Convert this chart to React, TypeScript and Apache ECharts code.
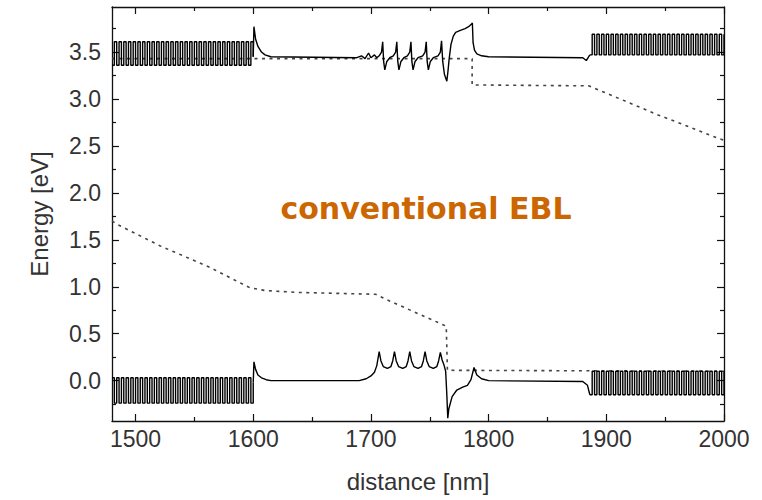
import React, { useEffect, useRef } from "react";
import * as echarts from "echarts";

// ---- axis ticks ----
const X_MIN = 1480;
const X_MAX = 2000;
const Y_MIN = -0.43;
const Y_MAX = 3.98;
const xMajor = [1500, 1600, 1700, 1800, 1900, 2000];
const xMinor = [1550, 1650, 1750, 1850, 1950];
const yMajor = [0, 0.5, 1, 1.5, 2, 2.5, 3, 3.5];
const yMinor = [-0.25, 0.25, 0.75, 1.25, 1.75, 2.25, 2.75, 3.25, 3.75];

// ---- superlattice sections (sampled every SL_STEP nm) ----
const SL_STEP = 2;
const cbLeftStart = 1480;
const cbLeftVals = [
  3.36, 3.61, 3.36, 3.61, 3.36, 3.61, 3.36, 3.61, 3.36, 3.61,
  3.36, 3.61, 3.36, 3.61, 3.36, 3.61, 3.36, 3.61, 3.36, 3.61,
  3.36, 3.61, 3.36, 3.61, 3.36, 3.61, 3.36, 3.61, 3.36, 3.61,
  3.36, 3.61, 3.36, 3.61, 3.36, 3.61, 3.36, 3.61, 3.36, 3.61,
  3.36, 3.61, 3.36, 3.61, 3.36, 3.61, 3.36, 3.61, 3.36, 3.61,
  3.36, 3.61, 3.36, 3.61, 3.36, 3.61, 3.36, 3.61, 3.36, 3.61,
  3.45,
];
const cbRightStart = 1886;
const cbRightVals = [
  3.47, 3.69, 3.47, 3.69, 3.47, 3.69, 3.47, 3.69, 3.47, 3.69,
  3.47, 3.69, 3.47, 3.69, 3.47, 3.69, 3.47, 3.69, 3.47, 3.69,
  3.47, 3.69, 3.47, 3.69, 3.47, 3.69, 3.47, 3.69, 3.47, 3.69,
  3.47, 3.69, 3.47, 3.69, 3.47, 3.69, 3.47, 3.69, 3.47, 3.69,
  3.47, 3.69, 3.47, 3.69, 3.47, 3.69, 3.47, 3.69, 3.47, 3.69,
  3.47, 3.69, 3.47, 3.69, 3.47, 3.69, 3.47, 3.69,
];
const vbLeftStart = 1480;
const vbLeftVals = [
  0.03, -0.24, 0.03, -0.24, 0.03, -0.24, 0.03, -0.24, 0.03, -0.24,
  0.03, -0.24, 0.03, -0.24, 0.03, -0.24, 0.03, -0.24, 0.03, -0.24,
  0.03, -0.24, 0.03, -0.24, 0.03, -0.24, 0.03, -0.24, 0.03, -0.24,
  0.03, -0.24, 0.03, -0.24, 0.03, -0.24, 0.03, -0.24, 0.03, -0.24,
  0.03, -0.24, 0.03, -0.24, 0.03, -0.24, 0.03, -0.24, 0.03, -0.24,
  0.03, -0.24, 0.03, -0.24, 0.03, -0.24, 0.03, -0.24, 0.03, -0.24,
  -0.02,
];
const vbRightStart = 1886;
const vbRightVals = [
  -0.15, 0.1, -0.15, 0.1, -0.15, 0.1, -0.15, 0.1, -0.15, 0.1,
  -0.15, 0.1, -0.15, 0.1, -0.15, 0.1, -0.15, 0.1, -0.15, 0.1,
  -0.15, 0.1, -0.15, 0.1, -0.15, 0.1, -0.15, 0.1, -0.15, 0.1,
  -0.15, 0.1, -0.15, 0.1, -0.15, 0.1, -0.15, 0.1, -0.15, 0.1,
  -0.15, 0.1, -0.15, 0.1, -0.15, 0.1, -0.15, 0.1, -0.15, 0.1,
  -0.15, 0.1, -0.15, 0.1, -0.15, 0.1, -0.15, 0.1,
];

// ---- active region: conduction band [nm, eV] ----
const cbMid: [number, number][] = [
  [1600, 3.45], [1600.6, 3.77], [1602, 3.64], [1604, 3.56], [1607, 3.5], [1610, 3.47], [1615, 3.45],
  [1688, 3.44], [1692, 3.46], [1695, 3.43], [1698, 3.49], [1700, 3.44], [1703, 3.47], [1705, 3.44],
  [1707, 3.46], [1709, 3.5], [1710, 3.61], [1710.8, 3.4], [1711.8, 3.31], [1713.5, 3.4], [1716, 3.44],
  [1719, 3.46], [1721, 3.5], [1722, 3.61], [1722.8, 3.4], [1723.8, 3.31], [1725.5, 3.4], [1728, 3.44],
  [1731, 3.46], [1733, 3.5], [1734, 3.61], [1734.8, 3.4], [1735.8, 3.31], [1737.5, 3.4], [1740, 3.44],
  [1744, 3.46], [1746, 3.5], [1747, 3.61], [1747.8, 3.4], [1748.8, 3.31], [1750.5, 3.4], [1753, 3.44],
  [1757, 3.46], [1759, 3.5], [1760, 3.62], [1761, 3.4], [1762.5, 3.26], [1764.5, 3.19], [1765.5, 3.3],
  [1766.5, 3.43], [1768, 3.58], [1770, 3.67], [1772, 3.71], [1776, 3.73], [1780, 3.75], [1783, 3.77],
  [1785.5, 3.8], [1786.2, 3.81], [1786.8, 3.6], [1788, 3.52], [1790, 3.48], [1794, 3.46], [1800, 3.45],
  [1880, 3.44], [1883, 3.41], [1886, 3.47],
];

// ---- active region: valence band [nm, eV] ----
const vbMid: [number, number][] = [
  [1600, -0.02], [1600.6, 0.2], [1602, 0.12], [1604, 0.06], [1607, 0.03], [1611, 0.01], [1615, 0.0],
  [1690, 0.0], [1696, 0.02], [1700, 0.05], [1703, 0.09], [1705, 0.16],
  [1707, 0.31], [1708.5, 0.21], [1710.5, 0.15], [1714, 0.13], [1717, 0.15], [1718.5, 0.21],
  [1720, 0.31], [1721.5, 0.21], [1723.5, 0.15], [1727, 0.13], [1730, 0.15], [1731.5, 0.21],
  [1733, 0.31], [1734.5, 0.21], [1736.5, 0.15], [1740, 0.13], [1743, 0.15], [1744.5, 0.21],
  [1746, 0.31], [1747.5, 0.21], [1749.5, 0.15], [1753, 0.13], [1756, 0.15], [1757.5, 0.21],
  [1759, 0.3], [1760.5, 0.22], [1762, 0.17], [1763.5, 0.1], [1764.5, -0.15], [1765.3, -0.4],
  [1766.2, -0.3], [1769, -0.17], [1773, -0.1], [1778, -0.07], [1782, -0.05], [1785, 0.01],
  [1787.6, 0.14], [1790, 0.06], [1794, 0.02], [1800, 0.0], [1880, -0.01], [1884, -0.05], [1886, -0.15],
];

// ---- quasi-Fermi levels (dotted) ----
const efn: [number, number][] = [
  [1480, 3.43], [1786, 3.43], [1786, 3.15], [1885, 3.14], [1908, 3.02], [1944, 2.83],
  [1967, 2.72], [1989, 2.61], [2000, 2.56],
];
const efp: [number, number][] = [
  [1480, 1.7], [1484, 1.667], [1521, 1.435], [1563, 1.207], [1597, 0.99], [1610, 0.96],
  [1637, 0.94], [1704, 0.92], [1713, 0.865], [1764, 0.58], [1765, 0.11], [2000, 0.1],
];

const FONT = "Liberation Sans";

function slData(start: number, vals: number[]) {
  return vals.map((v, i) => [start + i * SL_STEP, v]);
}

function xAxisDef(position: "bottom" | "top", values: number[], len: number, labels: boolean, line: boolean) {
  return {
    type: "value",
    min: X_MIN,
    max: X_MAX,
    position,
    axisLine: { show: line, onZero: false, lineStyle: { color: "#111", width: 1.3 } },
    axisTick: { show: true, inside: true, length: len, customValues: values, lineStyle: { color: "#111", width: 1.2 } },
    axisLabel: labels
      ? { show: true, customValues: values, margin: 6, fontSize: 23, fontFamily: FONT, color: "#333", formatter: (v: number) => String(v) }
      : { show: false },
    splitLine: { show: false },
    name: labels ? "distance [nm]" : "",
    nameLocation: "middle",
    nameGap: 48,
    nameTextStyle: { fontSize: 24, fontFamily: FONT, color: "#333" },
  };
}

function yAxisDef(position: "left" | "right", values: number[], len: number, labels: boolean, line: boolean) {
  return {
    type: "value",
    min: Y_MIN,
    max: Y_MAX,
    position,
    axisLine: { show: line, onZero: false, lineStyle: { color: "#111", width: 1.3 } },
    axisTick: { show: true, inside: true, length: len, customValues: values, lineStyle: { color: "#111", width: 1.2 } },
    axisLabel: labels
      ? { show: true, customValues: values, margin: 11, fontSize: 23, fontFamily: FONT, color: "#333", formatter: (v: number) => v.toFixed(1) }
      : { show: false },
    splitLine: { show: false },
    name: labels ? "Energy [eV]" : "",
    nameLocation: "middle",
    nameGap: 61,
    nameRotate: 90,
    nameTextStyle: { fontSize: 24, fontFamily: FONT, color: "#333" },
  };
}

export default function App() {
  const ref = useRef<HTMLDivElement>(null);
  useEffect(() => {
    if (!ref.current) return;
    const chart = echarts.init(ref.current, null, { renderer: "svg" });
    const solid = { color: "#000", width: 1.4 };
    const dotted = { color: "#444", width: 1.6, type: [3, 4.5] as number[] };
    const base = { type: "line", showSymbol: false, symbol: "none", silent: true, xAxisIndex: 0, yAxisIndex: 0 };
    chart.setOption({
      animation: false,
      backgroundColor: "#fff",
      grid: { left: 112, right: 38, top: 7, bottom: 79, containLabel: false },
      xAxis: [
        xAxisDef("bottom", xMajor, 7, true, true),
        xAxisDef("bottom", xMinor, 4, false, false),
        xAxisDef("top", xMajor, 7, false, true),
        xAxisDef("top", xMinor, 4, false, false),
      ],
      yAxis: [
        yAxisDef("left", yMajor, 7, true, true),
        yAxisDef("left", yMinor, 4, false, false),
        yAxisDef("right", yMajor, 7, false, true),
        yAxisDef("right", yMinor, 4, false, false),
      ],
      series: [
        { ...base, name: "Efn", data: efn, lineStyle: dotted, z: 1 },
        { ...base, name: "Efp", data: efp, lineStyle: dotted, z: 1 },
        { ...base, name: "CB SL left", step: "end", data: slData(cbLeftStart, cbLeftVals), lineStyle: solid, z: 2 },
        { ...base, name: "CB active", data: cbMid, lineStyle: solid, z: 2 },
        { ...base, name: "CB SL right", step: "end", data: slData(cbRightStart, cbRightVals), lineStyle: solid, z: 2 },
        { ...base, name: "VB SL left", step: "end", data: slData(vbLeftStart, vbLeftVals), lineStyle: solid, z: 2 },
        { ...base, name: "VB active", data: vbMid, lineStyle: solid, z: 2 },
        { ...base, name: "VB SL right", step: "end", data: slData(vbRightStart, vbRightVals), lineStyle: solid, z: 2 },
      ],
      graphic: [
        {
          type: "text",
          x: 426,
          y: 208,
          style: {
            text: "conventional EBL",
            align: "center",
            verticalAlign: "middle",
            font: 'bold 30px "DejaVu Sans"',
            fill: "#cc6600",
          },
          z: 10,
        },
      ],
    });
    return () => chart.dispose();
  }, []);
  return (
    <div
      ref={ref}
      style={{ position: "fixed", left: 0, top: 0, width: 762, height: 500, background: "#fff" }}
    />
  );
}
